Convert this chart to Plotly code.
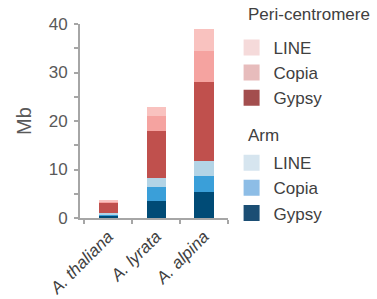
import plotly.graph_objects as go

categories = ["A. thaliana", "A. lyrata", "A. alpina"]
arm_gypsy = [0.5, 3.6, 5.4]
arm_copia = [0.3, 2.85, 3.3]
arm_line = [0.15, 1.85, 3.1]
peri_gypsy = [2.25, 9.7, 16.3]
peri_copia = [0.2, 3.1, 6.35]
peri_line = [0.15, 1.8, 4.55]

bar_series = [
    (arm_gypsy, "#004b76"),
    (arm_copia, "#3a9fd9"),
    (arm_line, "#b3d4e6"),
    (peri_gypsy, "#c0504d"),
    (peri_copia, "#f5a3a0"),
    (peri_line, "#f9c2bf"),
]

group_titles = ["Peri-centromere", "Arm"]
legend_items = [
    ("peri", "LINE", "#f5dada"),
    ("peri", "Copia", "#e7bcbc"),
    ("peri", "Gypsy", "#a34e4e"),
    ("arm", "LINE", "#d6e5ef"),
    ("arm", "Copia", "#8dbde6"),
    ("arm", "Gypsy", "#1b4e74"),
]

FONT = "Liberation Sans, Arial, sans-serif"
fig = go.Figure()
for vals, col in bar_series:
    fig.add_trace(go.Bar(x=categories, y=vals, marker=dict(color=col, line=dict(width=0)),
                         width=0.4, showlegend=False))

for grp, name, col in legend_items:
    fig.add_trace(go.Scatter(x=[None], y=[None], mode="markers", name=name,
                             legendgroup=grp,
                             marker=dict(symbol="square", size=16, color=col)))

fig.add_annotation(text=group_titles[0], xref="paper", yref="paper", x=1.1216, y=1.0464,
                   xanchor="left", yanchor="middle", showarrow=False,
                   font=dict(size=17, color="#404040", family=FONT))
fig.add_annotation(text=group_titles[1], xref="paper", yref="paper", x=1.1216, y=0.4227,
                   xanchor="left", yanchor="middle", showarrow=False,
                   font=dict(size=17, color="#404040", family=FONT))

fig.update_layout(
    width=377, height=299,
    margin=dict(l=80, r=149, t=24, b=81, autoexpand=False),
    barmode="stack",
    plot_bgcolor="white", paper_bgcolor="white",
    font=dict(family=FONT, color="#595959"),
    legend=dict(xref="container", yref="container", x=0.609, y=0.9, xanchor="left", yanchor="top",
                traceorder="grouped", tracegroupgap=40, maxheight=298, itemwidth=34,
                font=dict(size=17, color="#404040"), bgcolor="rgba(0,0,0,0)"),
    xaxis=dict(range=[-0.59, 2.5], showline=True, linecolor="#a6a6a6", linewidth=2,
               ticks="outside", tickson="boundaries", ticklen=4, tickcolor="#a6a6a6", tickwidth=2,
               tickangle=-45, tickfont=dict(size=17, style="italic", color="#404040"),
               showgrid=False, zeroline=False, fixedrange=True),
    yaxis=dict(range=[0, 40], dtick=10, showline=True, linecolor="#a6a6a6", linewidth=2,
               ticks="outside", ticklen=4, tickcolor="#a6a6a6", tickwidth=2,
               minor=dict(dtick=5, ticks="outside", ticklen=4, tickcolor="#a6a6a6", tickwidth=2),
               tickfont=dict(size=17, color="#595959"), ticklabelstandoff=3,
               title=dict(text="Mb", font=dict(size=20, color="#595959"), standoff=12),
               showgrid=False, zeroline=False, fixedrange=True),
)

fig.write_html("out.html", config={"displayModeBar": False},
               post_script="document.body.style.margin='0px';")
